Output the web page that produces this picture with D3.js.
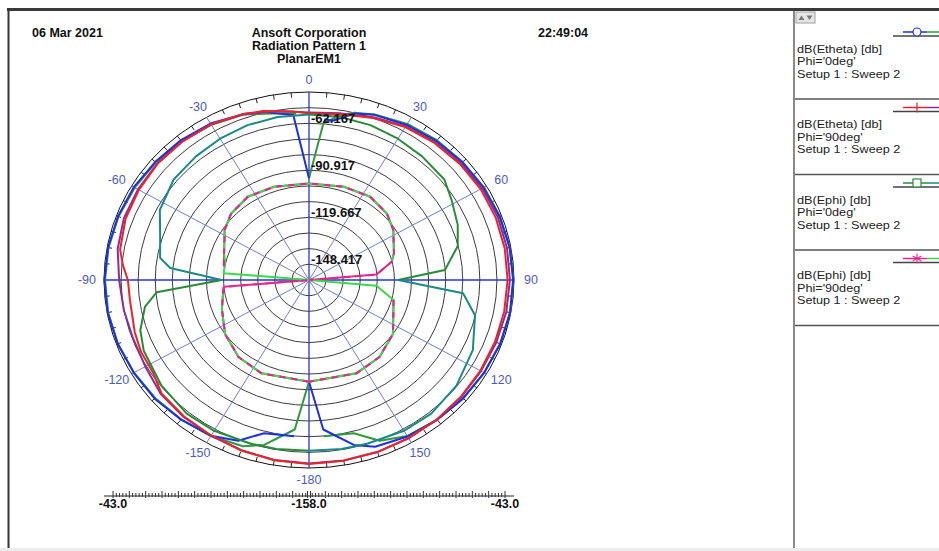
<!DOCTYPE html>
<html>
<head>
<meta charset="utf-8">
<script src="https://cdn.jsdelivr.net/npm/d3@7"></script>
<style>
body { margin: 0; background: #fff; }
text { font-family: "Liberation Sans", Arial, sans-serif; }
</style>
</head>
<body>
<div id="chart"></div>
<script>
// Radial range (dB) and labelled rings
const rMin = -158.0, rMax = -43.0;
const ringLabels = [-148.417, -119.667, -90.917, -62.167];
const angleLabels = [0, 30, 60, 90, 120, 150, -180, -150, -120, -90, -60, -30];

// Traces: [theta deg, dB], null = gap in the trace
const bluePhi0 = [[-175,-62],[-165,-61],[-158,-52],[-150,-48],[-140,-46.5],[-130,-45],[-120,-44.5],[-110,-43.8],[-100,-43.3],[-90,-43.2],[-80,-43.5],[-70,-44],[-60,-44.5],[-50,-45.5],[-40,-46.3],[-30,-47.5],[-20,-50],[-14,-52],[-10,-54.5],[-5,-56.7],[0,-95.8],null,[5,-59.5],[8,-59.5],[14,-53],[20,-50.5],[30,-48.5],[40,-47],[50,-45.8],[60,-45],[70,-44.2],[80,-43.7],[90,-43.5],[100,-43.5],[110,-43.8],[120,-44.5],[130,-45.3],[140,-46.3],[150,-47.5],[160,-49.5],[166,-54],[175,-66.2],[180,-95.8]];
const greenPhi0 = [[-180,-95.8],[-175,-66.2],[-166,-54],[-160,-49.8],[-150,-47.8],[-140,-46.5],[-130,-45.5],[-120,-44.6],[-110,-43.9],[-100,-43.6],[-90,-43.6],[-80,-43.8],[-70,-44.3],[-60,-45.1],[-50,-45.9],[-40,-47],[-30,-48.3],[-20,-50.3],[-14,-53.2],[-8,-55],[-4,-56],null,[0,-95.8],[4.8,-61.9],[10,-55.5],[14,-52.5],[20,-50.2],[30,-47.7],[40,-46.4],[50,-45.6],[60,-44.6],[70,-44.1],[80,-43.6],[90,-43.3],[100,-43.4],[110,-43.9],[120,-44.6],[130,-45.1],[140,-46.4],[150,-47.8],[158,-52],[165,-61],[175,-62]];
const redPhi90 = [[-180,-45.5],[-170,-46],[-160,-47],[-150,-48.2],[-140,-49],[-130,-50],[-123,-53.7],[-115,-54],[-108,-55.2],[-97,-56.8],[-90,-56.4],[-85,-53.2],[-80,-50.4],[-70,-48.5],[-60,-47.8],[-50,-47.2],[-40,-47.5],[-30,-48],[-20,-50],[-14,-51.5],[-5,-54.5],[0,-56],[5,-56],[10,-55],[14,-54.5],[20,-52.5],[30,-50],[40,-48.5],[50,-47.5],[60,-46.8],[70,-46.5],[80,-46.5],[90,-46.6],[100,-46.8],[110,-47],[120,-47],[130,-46.8],[140,-46.5],[150,-46.3],[160,-46],[170,-45.8],[180,-45.5]];
const purplePhi90 = [[-180,-45.8],[-170,-46.2],[-160,-47.2],[-150,-48],[-140,-48.6],[-130,-49.5],[-120,-52],[-110,-53],[-100,-52.5],[-90,-51.5],[-80,-49],[-70,-47.5],[-60,-47.2],[-50,-47],[-40,-47.4],[-30,-48.2],[-20,-50.2],[-10,-53],[0,-55.5],[10,-54.5],[20,-52],[30,-49.5],[40,-48],[50,-46.8],[60,-45.8],[70,-45.3],[80,-45.2],[90,-45.3],[100,-45.6],[110,-46.2],[120,-46.6],[130,-46.6],[140,-46.4],[150,-46.2],[160,-46],[170,-45.9],[180,-45.8]];
const darkGreenPhi0 = [[-180,-53.5],[-170,-53],[-162,-52.7],[-150,-51.5],[-140,-51.3],[-128,-53],[-115,-55.7],[-108,-58.5],[-100,-64.6],[-95,-72.3],[-90,-109],null,[0,-56.8],[10,-56.8],[20,-57.2],[30,-58.2],[40,-59.3],[51,-60.3],[58.5,-64.2],[68,-68],[76,-72],[85.4,-81.5],[90,-108]];
const tealPhi0 = [[-90,-109],[-84.6,-79.8],[-80.8,-73.4],[-72.4,-70.4],[-62.9,-64],[-51,-60.3],[-40,-59.3],[-30,-58.2],[-20,-57.2],[-10,-56.8],[0,-56.8],null,[90,-108],[95.4,-71.2],[103,-62.4],[115,-56.6],[128,-53],[140,-51.3],[150,-51.5],[162,-52.7],[170,-53],[180,-53.5]];
const magentaPhi90 = [[-180,-95.8],[-155,-95],[-140,-96.5],[-125,-100.5],[-110,-106],[-100,-109],[-95,-110],[-90,-158],null,[-80,-109.5],[-71,-107.6],[-57,-101.6],[-47,-98.3],[-34,-96.6],[-19,-97.7],[0,-98.9],[19,-97.7],[34,-96.6],[47,-98.3],[57,-101.6],[71,-107.6],[76.5,-110.3],[85,-120],[90,-158],null,[104.5,-109],[125,-100.5],[140,-96.5],[155,-95],[180,-95.8]];
const lightGreenPhi90 = [[-180,-95.8],[-155,-95],[-140,-96.5],[-125,-100.5],[-110,-106],[-100,-109],null,[-90,-158],[-85,-110],[-76,-109.5],[-71,-107.6],[-57,-101.6],[-47,-98.3],[-34,-96.6],[-19,-97.7],[0,-98.9],[19,-97.7],[34,-96.6],[47,-98.3],[57,-101.6],[71,-107.6],[76.5,-110.3],null,[90,-158],[95.3,-120],[104.5,-109],[125,-100.5],[140,-96.5],[155,-95],[180,-95.8]];

const legendItems = [
    {name: "dB(Etheta) [db]", phi: "Phi='0deg'", c1: "#1f2fe0", c2: "#2f9a3f", marker: "circle"},
    {name: "dB(Etheta) [db]", phi: "Phi='90deg'", c1: "#e8262a", c2: "#8c2b9c", marker: "plus"},
    {name: "dB(Ephi) [db]", phi: "Phi='0deg'", c1: "#2b8a3a", c2: "#1a8a86", marker: "square"},
    {name: "dB(Ephi) [db]", phi: "Phi='90deg'", c1: "#e2288c", c2: "#3ad94a", marker: "star"}
];

// Layout
const W = 939, H = 551;
const cx = 309, cy = 280, rx = 205, ry = 188;

const svg = d3.select("#chart")
    .append("svg")
    .attr("width", W)
    .attr("height", H);

svg.append("rect").attr("width", W).attr("height", H).attr("fill", "#fff");

const r = d3.scaleLinear().domain([rMin, rMax]).range([0, 1]).clamp(true);
const rad = a => a * Math.PI / 180;
const px = (a, v) => cx + r(v) * rx * Math.sin(rad(a));
const py = (a, v) => cy - r(v) * ry * Math.cos(rad(a));

// Frame
svg.append("rect").attr("x", 0).attr("y", 548).attr("width", W).attr("height", 3).attr("fill", "#ececec");
svg.append("line").attr("x1", 7).attr("x2", W).attr("y1", 9.5).attr("y2", 9.5)
    .attr("stroke", "#3a3a3a").attr("stroke-width", 3);
svg.append("line").attr("x1", 8.5).attr("x2", 8.5).attr("y1", 8).attr("y2", 548)
    .attr("stroke", "#333").attr("stroke-width", 2);
svg.append("line").attr("x1", 794).attr("x2", 794).attr("y1", 11).attr("y2", 548)
    .attr("stroke", "#8a8a8a").attr("stroke-width", 2);

// Header
const header = svg.append("g").attr("font-weight", "bold").attr("font-size", 12.5).attr("fill", "#111");
header.append("text").attr("x", 32).attr("y", 37).text("06 Mar 2021");
header.append("text").attr("x", 538).attr("y", 37).text("22:49:04");
header.selectAll(".title")
    .data(["Ansoft Corporation", "Radiation Pattern 1", "PlanarEM1"])
    .enter().append("text")
    .attr("x", cx).attr("y", (d, i) => 37 + i * 13)
    .attr("text-anchor", "middle")
    .text(d => d);

// Grid rings
const g = svg.append("g");
const ringVals = d3.range(1, 13).map(k => rMin + k * (rMax - rMin) / 12);
g.selectAll(".ring")
    .data(ringVals)
    .enter().append("ellipse")
    .attr("cx", cx).attr("cy", cy)
    .attr("rx", d => r(d) * rx).attr("ry", d => r(d) * ry)
    .attr("fill", "none")
    .attr("stroke", (d, i) => i === 11 ? "#111" : "#3c3c3c")
    .attr("stroke-width", 1);

// Spokes
g.selectAll(".spoke")
    .data(d3.range(0, 360, 30))
    .enter().append("line")
    .attr("x1", cx).attr("y1", cy)
    .attr("x2", d => px(d, rMax)).attr("y2", d => py(d, rMax))
    .attr("stroke", d => d % 90 === 0 ? "#2536c8" : "#6e7ed8")
    .attr("stroke-width", d => d % 90 === 0 ? 1.3 : 1);

// Outer ticks every 5 deg
g.selectAll(".otick")
    .data(d3.range(0, 360, 5).filter(a => a % 30 !== 0))
    .enter().append("line")
    .attr("x1", d => px(d, rMax)).attr("y1", d => py(d, rMax))
    .attr("x2", d => cx + (rx - 5) * Math.sin(rad(d))).attr("y2", d => cy - (ry - 5) * Math.cos(rad(d)))
    .attr("stroke", "#222").attr("stroke-width", 1);

// Angle labels
g.selectAll(".alab")
    .data(angleLabels)
    .enter().append("text")
    .attr("x", d => cx + (rx + 17) * Math.sin(rad(d)))
    .attr("y", d => cy - (ry + 12) * Math.cos(rad(d)))
    .attr("text-anchor", "middle")
    .attr("dominant-baseline", "central")
    .attr("font-size", 12.5)
    .attr("fill", "#4b5bc2")
    .text(d => d);

// Traces
const line = d3.line()
    .defined(d => d !== null)
    .x(d => px(d[0], d[1]))
    .y(d => py(d[0], d[1]));

const traces = [
    {data: greenPhi0, color: "#2f9a3f"},
    {data: bluePhi0, color: "#1f2fe0"},
    {data: purplePhi90, color: "#8c2b9c"},
    {data: redPhi90, color: "#e8262a"},
    {data: darkGreenPhi0, color: "#2b8a3a"},
    {data: tealPhi0, color: "#1a8a86"},
    {data: magentaPhi90, color: "#e2288c"},
    {data: lightGreenPhi90, color: "#3ad94a"},
    {data: magentaPhi90, color: "#e2288c", dash: "6,6"}
];
const tg = svg.append("g");
traces.forEach(t => {
    tg.append("path")
        .attr("d", line(t.data))
        .attr("fill", "none")
        .attr("stroke", t.color)
        .attr("stroke-width", 2)
        .attr("stroke-linejoin", "round")
        .attr("stroke-dasharray", t.dash || null);
});

// Ring value labels
svg.append("g").selectAll("text")
    .data(ringLabels)
    .enter().append("text")
    .attr("x", cx + 2)
    .attr("y", d => cy - r(d) * ry - 5)
    .attr("dominant-baseline", "central")
    .attr("font-size", 13).attr("font-weight", "bold").attr("fill", "#111")
    .text(d => d.toFixed(3));

// Bottom scale bar
const barY = 496, barHalf = 196;
const bar = d3.scaleLinear().domain([rMin, rMax]).range([0, barHalf]);
const bg = svg.append("g");
bg.append("line").attr("x1", cx - rx).attr("x2", cx + rx).attr("y1", barY).attr("y2", barY)
    .attr("stroke", "#222").attr("stroke-width", 1);
const barTicks = d3.range(0, 61).map(i => ({v: rMin + i * (rMax - rMin) / 60, major: i % 5 === 0}));
[-1, 1].forEach(side => {
    bg.selectAll(".bt" + side)
        .data(barTicks)
        .enter().append("line")
        .attr("x1", d => cx + side * (bar(d.v) + (d.v === rMin ? 1.5 : 0)))
        .attr("x2", d => cx + side * (bar(d.v) + (d.v === rMin ? 1.5 : 0)))
        .attr("y1", d => d.major ? barY - 5 : barY - 3)
        .attr("y2", d => d.major ? barY + 2 : barY + 1)
        .attr("stroke", "#333").attr("stroke-width", 1);
});
bg.selectAll(".blab")
    .data([[-1, rMax], [0, rMin], [1, rMax]])
    .enter().append("text")
    .attr("x", d => cx + d[0] * bar(d[1]))
    .attr("y", 508)
    .attr("text-anchor", "middle")
    .attr("font-size", 12.5).attr("font-weight", "bold").attr("fill", "#111")
    .text(d => d[1].toFixed(1));

// Legend panel
const lg = svg.append("g");
lg.append("rect").attr("x", 796).attr("y", 12).attr("width", 19).attr("height", 11)
    .attr("fill", "#e6e6e6").attr("stroke", "#a0a0a0");
lg.append("path").attr("d", "M798.5,20 L801.5,15.5 L804.5,20 Z").attr("fill", "#777");
lg.append("path").attr("d", "M806.5,15.5 L809.5,20 L812.5,15.5 Z").attr("fill", "#777");

legendItems.forEach((it, i) => {
    const y0 = 32 + i * 75.5;
    const item = lg.append("g");
    item.append("line").attr("x1", 893).attr("x2", W).attr("y1", y0 + 4).attr("y2", y0 + 4)
        .attr("stroke", "#444").attr("stroke-width", 1.5);
    item.append("line").attr("x1", 903).attr("x2", 927).attr("y1", y0).attr("y2", y0)
        .attr("stroke", it.c1).attr("stroke-width", 1.5);
    item.append("line").attr("x1", 927).attr("x2", W).attr("y1", y0).attr("y2", y0)
        .attr("stroke", it.c2).attr("stroke-width", 1.5);
    const mx = 917;
    if (it.marker === "circle") {
        item.append("circle").attr("cx", mx).attr("cy", y0).attr("r", 4)
            .attr("fill", "#fff").attr("stroke", it.c1).attr("stroke-width", 1.2);
    } else if (it.marker === "plus") {
        item.append("line").attr("x1", mx).attr("x2", mx).attr("y1", y0 - 5).attr("y2", y0 + 5)
            .attr("stroke", it.c1).attr("stroke-width", 1.2);
    } else if (it.marker === "square") {
        item.append("rect").attr("x", mx - 4).attr("y", y0 - 4).attr("width", 8).attr("height", 8)
            .attr("fill", "#fff").attr("stroke", it.c1).attr("stroke-width", 1.2);
    } else {
        [[0, 5], [4.3, 2.5], [4.3, -2.5]].forEach(v => {
            item.append("line").attr("x1", mx - v[0]).attr("x2", mx + v[0])
                .attr("y1", y0 - v[1]).attr("y2", y0 + v[1])
                .attr("stroke", it.c1).attr("stroke-width", 1.1);
        });
    }
    // text is slightly stretched horizontally, as in the source screenshot
    item.append("g")
        .attr("transform", "translate(797,0) scale(1.15,1)")
        .selectAll("text")
        .data([it.name, it.phi, "Setup 1 : Sweep 2"])
        .enter().append("text")
        .attr("x", 0)
        .attr("y", (d, k) => y0 + 21 + k * 12.5)
        .attr("font-size", 11).attr("fill", "#222")
        .text(d => d);
    item.append("line").attr("x1", 795).attr("x2", W).attr("y1", y0 + 67).attr("y2", y0 + 67)
        .attr("stroke", "#555").attr("stroke-width", 1.5);
});
</script>
</body>
</html>
